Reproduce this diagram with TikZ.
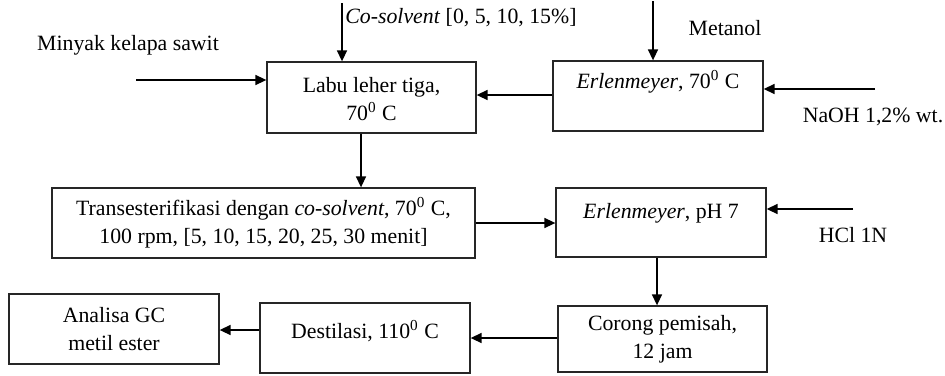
\documentclass[tikz,border=0pt]{standalone}
\usepackage{fontspec}
\setmainfont{Liberation Serif}
\usetikzlibrary{arrows.meta}
\begin{document}
\begin{tikzpicture}[x=0.5pt,y=-0.5pt,
  txt/.style={font=\fontsize{10.9}{14}\selectfont},
  box/.style={txt, draw=black!85, line width=0.65pt, minimum width=105pt,
    minimum height=35pt, inner sep=0pt, align=center},
  lbl/.style={txt, inner sep=0pt},
  arr/.style={line width=0.75pt, -{Triangle[length=5.5pt,width=5pt]}}]
\useasboundingbox (0,0) rectangle (945,375);
% boxes
\node[box, minimum width=104.5pt, minimum height=35.5pt] (labu) at (371.5,97.5)
  {\rule{0pt}{9pt}Labu leher tiga,\\ 70\textsuperscript{0}~C};
\node[box, text height=7pt, text depth=14.4pt] (erl1) at (658,96)
  {\textit{Erlenmeyer}, 70\textsuperscript{0}~C};
\node[box, minimum width=211.5pt] (trans) at (263.5,223)
  {Transesterifikasi dengan \textit{co-solvent}, 70\textsuperscript{0}~C,\\ 100 rpm, [5, 10, 15, 20, 25, 30 menit]};
\node[box, minimum height=34.5pt, text height=7pt, text depth=10.9pt] (erl2) at (661,222.5)
  {\textit{Erlenmeyer}, pH 7};
\node[box, minimum width=104.5pt, minimum height=33pt] (corong) at (662.5,339)
  {Corong pemisah,\\ 12 jam};
\node[box, text height=7pt, text depth=6.4pt] (dest) at (365,338)
  {Destilasi, 110\textsuperscript{0}~C};
\node[box] (gc) at (114,329)
  {Analisa GC\\ metil ester};
% labels
\node[lbl, anchor=west] (tcs) at (345,18) {\textit{Co-solvent} [0, 5, 10, 15\%]};
\node[lbl] (tmk) at (128,45) {Minyak kelapa sawit};
\node[lbl] (tme) at (725,28) {Metanol};
\node[lbl] (tna) at (873,117) {NaOH 1,2\% wt.};
\node[lbl] (thc) at (853,235) {HCl 1N};
% free ends
\coordinate (cs) at (342,3);
\coordinate (mk) at (136,80);
\coordinate (me) at (653,1);
\coordinate (na) at (875,89);
\coordinate (hc) at (853,209);
% connectors
\draw[arr] (cs) -- (cs |- labu.north);
\draw[arr] (mk) -- (mk -| labu.west);
\draw[arr] (me) -- (me |- erl1.north);
\draw[arr] (na) -- (na -| erl1.east);
\draw[arr] (erl1.west |- 0,95) -- (labu.east |- 0,95);
\draw[arr] (labu.south -| 361,0) -- (trans.north -| 361,0);
\draw[arr] (trans.east |- 0,223) -- (erl2.west |- 0,223);
\draw[arr] (hc) -- (hc -| erl2.east);
\draw[arr] (erl2.south -| 657,0) -- (corong.north -| 657,0);
\draw[arr] (corong.west |- 0,338) -- (dest.east |- 0,338);
\draw[arr] (dest.west |- 0,330) -- (gc.east |- 0,330);
\end{tikzpicture}
\end{document}
